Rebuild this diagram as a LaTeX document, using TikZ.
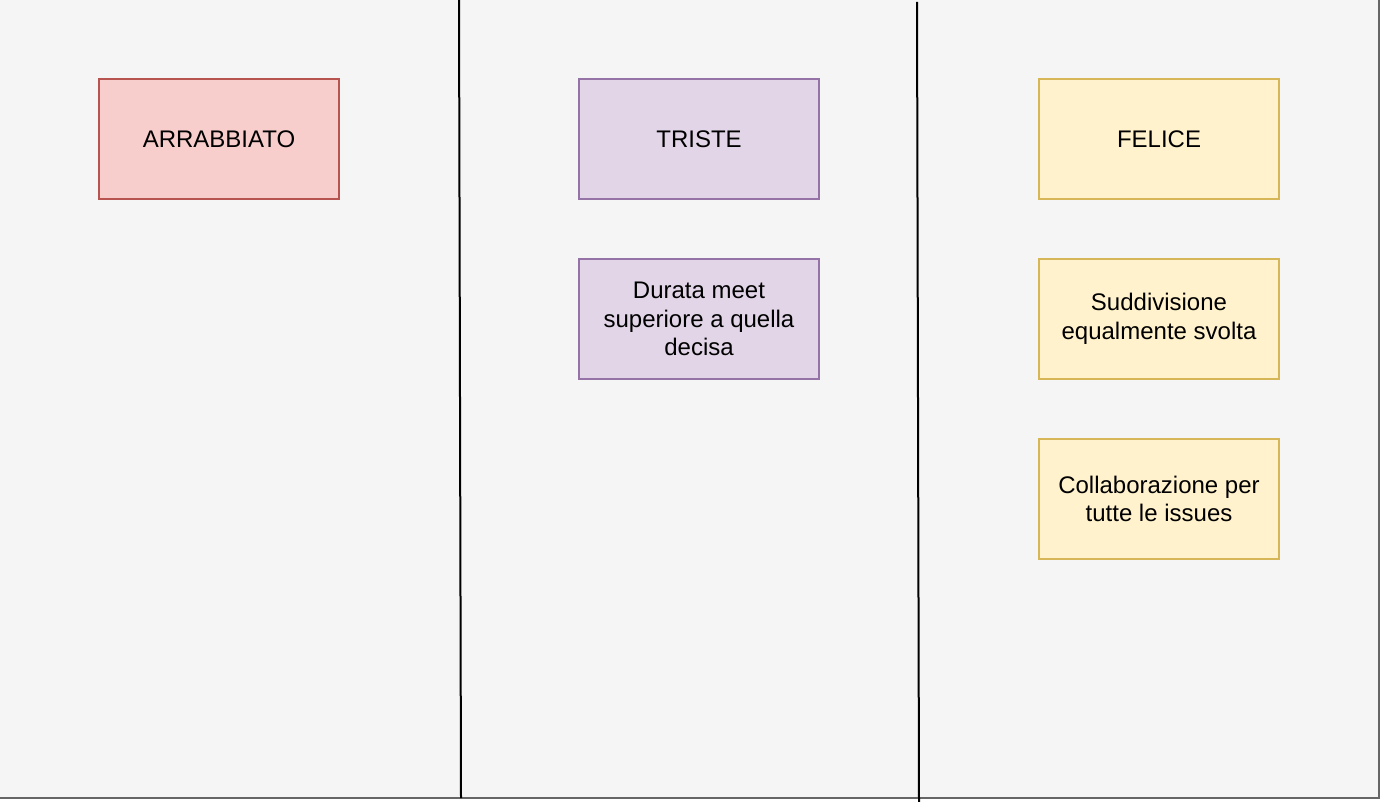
\documentclass[tikz,border=0pt]{standalone}
\usepackage{fontspec}
\setmainfont{Liberation Sans}
\usetikzlibrary{positioning}
\definecolor{panelfill}{HTML}{F5F5F5}
\definecolor{paneledge}{HTML}{666666}
\definecolor{angryfill}{HTML}{F8CECC}
\definecolor{angrydraw}{HTML}{B85450}
\definecolor{sadfill}{HTML}{E1D5E7}
\definecolor{saddraw}{HTML}{9673A6}
\definecolor{happyfill}{HTML}{FFF2CC}
\definecolor{happydraw}{HTML}{D6B656}
\tikzset{
    %Define style for sticky notes
    note/.style={
      rectangle,
      line width=1.5pt,
      minimum width=240pt,
      minimum height=120pt,
      inner sep=0pt,
      outer sep=0pt,
      align=center,
      font=\fontsize{24}{28.5}\selectfont},
    angry/.style={note, fill=angryfill, draw=angrydraw},
    sad/.style={note, fill=sadfill, draw=saddraw},
    happy/.style={note, fill=happyfill, draw=happydraw},
    % Define column divider style
    divider/.style={
      draw=black,
      line width=2pt}
}
\begin{document}
\begin{tikzpicture}[x=1pt, y=-1pt]
    \useasboundingbox (0,0) rectangle (1384,802);
    % board
    \fill[panelfill] (0,0) rectangle (1379,798);
    \draw[paneledge, line width=2pt] (1379,0) -- (1379,798) -- (0,798);
    \draw[divider] (459,0) -- (461,798);
    \draw[divider] (917,2) -- (919,802);

    \node[angry] (angry) at (219,139) {ARRABBIATO};

    \node[sad, right=240pt of angry] (sad) {TRISTE};
    \node[sad, below=60pt of sad] (sad1) {Durata meet\\superiore a quella\\decisa};

    \node[happy, right=220pt of sad] (happy) {FELICE};
    \node[happy, below=60pt of happy] (happy1) {Suddivisione\\equalmente svolta};
    \node[happy, below=60pt of happy1] (happy2) {Collaborazione per\\tutte le issues};
\end{tikzpicture}
\end{document}
